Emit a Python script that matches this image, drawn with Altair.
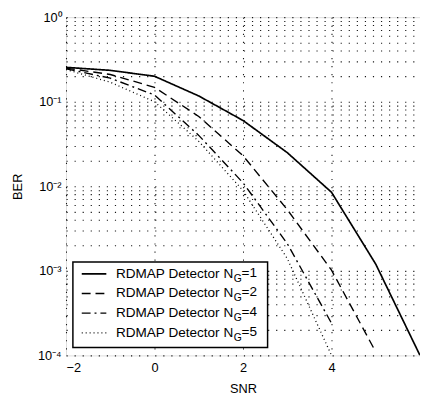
import altair as alt
import pandas as pd

snr = [-2, -1, 0, 1, 2, 3, 4, 5, 6]
ber_ng1 = [0.255, 0.235, 0.20, 0.117, 0.060, 0.025, 0.0085, 0.0012, 0.0001]
ber_ng2 = [0.25, 0.21, 0.148, 0.067, 0.023, 0.0053, 0.00102, 0.00011]
ber_ng4 = [0.245, 0.19, 0.12, 0.040, 0.011, 0.0021, 0.00024]
ber_ng5 = [0.24, 0.17, 0.10, 0.034, 0.0089, 0.0014, 0.0001]

series_names = ["N_G=1", "N_G=2", "N_G=4", "N_G=5"]
series_values = [ber_ng1, ber_ng2, ber_ng4, ber_ng5]
legend_main = ["RDMAP Detector N"] * 4
legend_sub = ["G"] * 4
legend_suffix = ["=1", "=2", "=4", "=5"]

x_ticks = [-2, 0, 2, 4]
y_all = sorted(set([round(m * 10.0 ** d, 10) for d in range(-4, 0) for m in range(1, 10)] + [1.0]))

FONT = "Liberation Sans"
W, H = 360, 344

dashes = [[1, 0], [9, 5], [9, 4, 2, 4], [1, 3]]
widths = [1.7, 1.4, 1.4, 1.3]

xscale = alt.Scale(domain=[-2, 6], nice=False, zero=False)
yscale = alt.Scale(type="log", domain=[1e-4, 1], nice=False)

label_expr = (
    "abs(datum.value-1)<1e-9 ? '10⁰' : abs(datum.value-0.1)<1e-12 ? '10⁻¹' : "
    "abs(datum.value-0.01)<1e-12 ? '10⁻²' : abs(datum.value-0.001)<1e-12 ? '10⁻³' : "
    "abs(datum.value-0.0001)<1e-12 ? '10⁻⁴' : ''"
)

x_axis = alt.Axis(values=x_ticks, title="SNR", grid=True, gridDash=[1.2, 7], gridColor="black",
                  gridOpacity=0.9, gridWidth=1.1, ticks=False, labelFont=FONT, labelFontSize=13,
                  labelColor="black", labelPadding=6, titleFont=FONT, titleFontSize=13,
                  titleFontWeight="normal", titleColor="black", titleX=180, titleY=34,
                  titleBaseline="middle", domain=False)
y_axis = alt.Axis(values=y_all, labelExpr=label_expr, title="BER", grid=True, gridDash=[1.2, 7],
                  gridColor="black", gridOpacity=0.9, gridWidth=1.1, ticks=False, labelFont=FONT,
                  labelFontSize=13, labelColor="black", labelPadding=5, titleFont=FONT,
                  titleFontSize=13, titleFontWeight="normal", titleColor="black",
                  titleX=-49, titleY=172, titleBaseline="middle", titleAngle=-90, domain=False)

rows = []
for name, vals in zip(series_names, series_values):
    for s, b in zip(snr, vals):
        rows.append({"snr": s, "ber": b, "series": name})
df = pd.DataFrame(rows)

layers = []
base = alt.Chart(df).mark_point(opacity=0).encode(
    x=alt.X("snr:Q", scale=xscale, axis=x_axis),
    y=alt.Y("ber:Q", scale=yscale, axis=y_axis),
)
layers.append(base)

for i, name in enumerate(series_names):
    line = alt.Chart(df).transform_filter(alt.datum.series == name).mark_line(
        color="black", strokeWidth=widths[i], strokeDash=dashes[i], clip=True
    ).encode(
        x=alt.X("snr:Q", scale=xscale),
        y=alt.Y("ber:Q", scale=yscale),
        order="snr:Q",
    )
    layers.append(line)

one = pd.DataFrame({"k": [0]})
layers.append(alt.Chart(one).mark_rect(fill="white", stroke="black", strokeWidth=1.5).encode(
    x=alt.value(7), x2=alt.value(205), y=alt.value(249), y2=alt.value(336)))

leg_y = [261, 281, 301, 321]
for i in range(4):
    yy = leg_y[i]
    layers.append(alt.Chart(one).mark_rule(color="black", strokeWidth=widths[i],
                                           strokeDash=dashes[i]).encode(
        x=alt.value(16), x2=alt.value(41), y=alt.value(yy)))
    layers.append(alt.Chart(pd.DataFrame({"t": [legend_main[i]]})).mark_text(
        align="right", baseline="middle", font=FONT, fontSize=13.8, color="black").encode(
        x=alt.value(170), y=alt.value(yy), text="t:N"))
    layers.append(alt.Chart(pd.DataFrame({"t": [legend_sub[i]]})).mark_text(
        align="left", baseline="middle", font=FONT, fontSize=10.5, color="black").encode(
        x=alt.value(170.5), y=alt.value(yy + 5), text="t:N"))
    layers.append(alt.Chart(pd.DataFrame({"t": [legend_suffix[i]]})).mark_text(
        align="left", baseline="middle", font=FONT, fontSize=13.8, color="black").encode(
        x=alt.value(178.5), y=alt.value(yy - 1), text="t:N"))

chart = alt.layer(*layers).properties(
    width=W, height=H,
    autosize=alt.AutoSizeParams(type="none"),
    padding={"left": 59, "top": 6, "right": 0, "bottom": 40},
).configure_view(stroke="black", strokeWidth=1.5).configure(background="white")

chart.save("out.html", embed_options={"renderer": "svg", "actions": False})
